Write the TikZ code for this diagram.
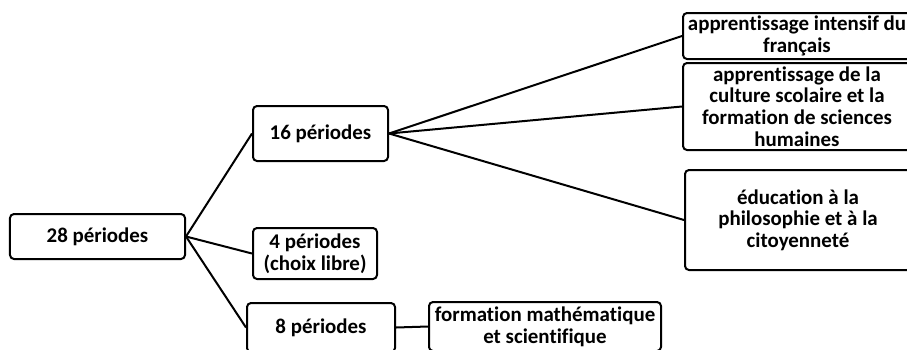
\documentclass[tikz,border=0pt]{standalone}
\usepackage{fontspec}
\setmainfont{Carlito}[Ligatures=NoCommon]
\usepackage{tikz}

\begin{document}
\begin{tikzpicture}[x=1bp,y=-1bp,
bloc/.style={
% The shape:
rectangle,rounded corners=4bp,
% The border:
line width=2bp,
draw=black,
% Spacing, the text may touch the border
inner xsep=2bp,inner ysep=0bp,
% Font
font=\bfseries\fontsize{21}{21.7}\selectfont,
align=center
},
lien/.style={line width=2bp,draw=black}]

\useasboundingbox (0,0) rectangle (907,349);

\node (p28) [bloc, minimum width=175bp, minimum height=45bp] at (97.5,236.5) {28 périodes};
\node (p16) [bloc, minimum width=135bp, minimum height=55bp] at (320.5,133.5) {16 périodes};
\node (p4) [bloc, minimum width=124bp, minimum height=51bp] at (315,253.5) {4 périodes\\(choix libre)};
\node (p8) [bloc, minimum width=148bp, minimum height=49bp] at (321,327.5) {8 périodes};
\node (math) [bloc, minimum width=232bp, minimum height=49bp] at (545,326.5) {formation mathématique\\et scientifique};
\node (fra) [bloc, minimum width=228bp, minimum height=46bp] at (797,36) {apprentissage intensif du\\français};
\node (cult) [bloc, minimum width=228bp, minimum height=87bp] at (797,106.5) {apprentissage de la\\culture scolaire et la\\formation de sciences\\humaines};
\node (educ) [bloc, minimum width=226bp, minimum height=100bp] at (798,220) {éducation à la\\philosophie et à la\\citoyenneté};

\path (p28.east) edge[lien] (p16.west);
\path (p28.east) edge[lien] (p4.west);
\path (p28.east) edge[lien] (p8.west);
\path (p16.east) edge[lien] (fra.west);
\path (p16.east) edge[lien] (cult.west);
\path (p16.east) edge[lien] (educ.west);
\path (p8.east) edge[lien] (math.west);
\end{tikzpicture}
\end{document}
